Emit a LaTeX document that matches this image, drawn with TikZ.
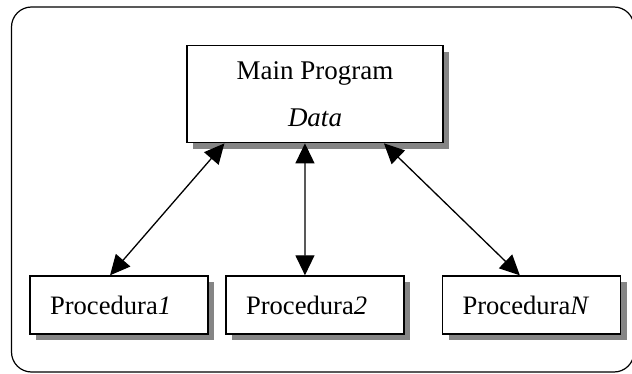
\documentclass[tikz,border=0pt]{standalone}
\usepackage{fontspec}
\setmainfont{Liberation Serif}
\usetikzlibrary{arrows.meta,shadows,calc}
\begin{document}
\begin{tikzpicture}[x=1pt,y=-1pt,
  box/.style={draw, fill=white, line width=1.4pt,
    drop shadow={fill=black!48, opacity=1, shadow xshift=6pt, shadow yshift=-6pt}},
  procbox/.style={box, minimum height=58pt, text width=138pt, inner xsep=20pt, inner ysep=0pt, align=left,
    font=\fontsize{26.6pt}{30pt}\selectfont},
  link/.style={line width=1.3pt, {Triangle[length=20pt,width=19pt]}-{Triangle[length=20pt,width=19pt]}}
]
\useasboundingbox (0,0) rectangle (632,374);
\begin{scope}
\clip (0,0) rectangle (632,374);
\draw[line width=1.2pt, rounded corners=20pt] (11.5,7) rectangle (634,372);
\end{scope}
\node[box, minimum width=256pt, minimum height=97pt, inner sep=0pt, align=center,
  font=\fontsize{27pt}{47pt}\selectfont] (main) at (315,94.2) {Main Program\\\textit{Data}};
\node[procbox] (p1) at (119,305) {Procedura\textit{1}};
\node[procbox] (p2) at (315,305) {Procedura\textit{2}};
\node[procbox] (pn) at (531.5,305) {Procedura\textit{N}};
\coordinate (m1) at ($(main.south west)!0.148!(main.south east)$);
\coordinate (m2) at ($(main.south west)!0.461!(main.south east)$);
\coordinate (m3) at ($(main.south west)!0.768!(main.south east)$);
\coordinate (q1) at ($(p1.north west)!0.45!(p1.north east)$);
\coordinate (q2) at ($(p2.north west)!0.444!(p2.north east)$);
\coordinate (qn) at ($(pn.north west)!0.435!(pn.north east)$);
\draw[link] (m1) -- (q1);
\draw[link] (m2) -- (q2);
\draw[link] (m3) -- (qn);
\end{tikzpicture}
\end{document}
